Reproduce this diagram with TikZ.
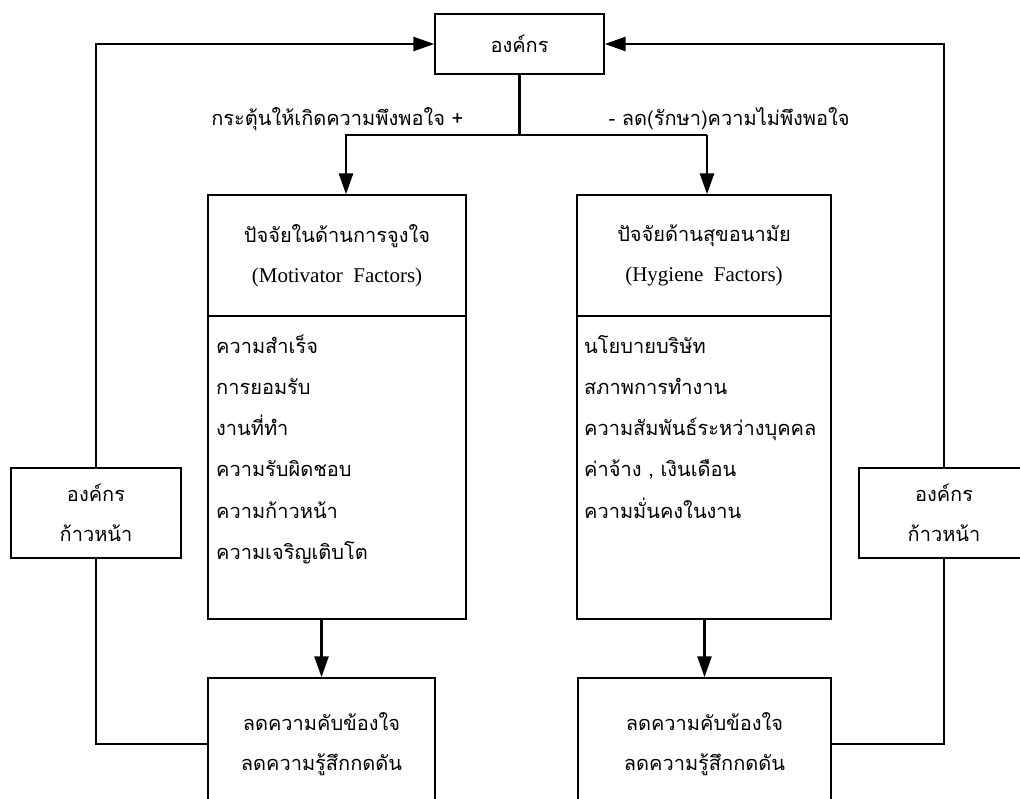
\documentclass[tikz,border=0pt]{standalone}
\usepackage{fontspec}
\setmainfont{Liberation Serif}
\newfontfamily\thai[Script=Thai]{Loma}
\usetikzlibrary{arrows.meta}

\begin{document}
\begin{tikzpicture}[x=1pt, y=-1pt,
    every node/.style={font=\thai\fontsize{20}{40}\selectfont},
    box/.style={draw, line width=1.4pt, inner sep=0pt, align=center},
    conn/.style={line width=2.6pt},
    arr/.style={conn, -{Triangle[length=21pt, width=14pt]}},
    item/.style={anchor=base west, inner sep=0pt}]
  \useasboundingbox (0,0) rectangle (1020,798);
  \node[box, minimum width=169pt, minimum height=60pt] (org) at (519.5,44) {องค์กร};
  \node[box, minimum width=258pt, minimum height=121pt] (motivHead) at (337,255.5)
    {ปัจจัยในด้านการจูงใจ\\{\rmfamily\fontsize{21}{40}\selectfont (Motivator\ \ Factors)}};
  \node[box, minimum width=258pt, minimum height=303pt] (motivList) at (337,467.5) {};
  \node[box, minimum width=254pt, minimum height=121pt] (hygHead) at (704,255.5)
    {ปัจจัยด้านสุขอนามัย\\{\rmfamily\fontsize{21}{40}\selectfont (Hygiene\ \ Factors)}};
  \node[box, minimum width=254pt, minimum height=303pt] (hygList) at (704,467.5) {};
  \node[box, minimum width=227pt, minimum height=132pt] (motivEnd) at (321.5,744)
    {ลดความคับข้องใจ\\ลดความรู้สึกกดดัน};
  \node[box, minimum width=253pt, minimum height=132pt] (hygEnd) at (704.5,744)
    {ลดความคับข้องใจ\\ลดความรู้สึกกดดัน};
  \node[box, fill=white, minimum width=170pt, minimum height=90pt] (leftUp) at (96,513)
    {องค์กร\\ก้าวหน้า};
  \node[box, fill=white, minimum width=170pt, minimum height=90pt] (rightUp) at (944,513)
    {องค์กร\\ก้าวหน้า};
  % lists
  \foreach \t [count=\i] in {ความสำเร็จ, การยอมรับ, งานที่ทำ, ความรับผิดชอบ,
      ความก้าวหน้า, ความเจริญเติบโต}
    \node[item] (motiv\i) at (216, 312+41.2*\i) {\t};
  \foreach \t [count=\i] in {นโยบายบริษัท, สภาพการทำงาน, ความสัมพันธ์ระหว่างบุคคล,
      {ค่าจ้าง , เงินเดือน}, ความมั่นคงในงาน}
    \node[item] (hyg\i) at (584, 312+41.2*\i) {\t};
  % split
  \coordinate (splitL) at (346,135);
  \coordinate (splitR) at (707,135);
  \draw[conn] (org.south) -- (org.south |- splitL);
  \draw[arr] (splitR) -- (splitL) -- (splitL |- motivHead.north);
  \draw[arr] (splitR) -- (splitR |- hygHead.north);
  \node[anchor=base east] (plusLbl) at (467,125) {กระตุ้นให้เกิดความพึงพอใจ +};
  \node[anchor=base west] (minusLbl) at (605,125) {- ลด(รักษา)ความไม่พึงพอใจ};
  % down
  \draw[arr] (motivEnd.north |- motivList.south) -- (motivEnd.north);
  \draw[arr] (hygEnd.north |- hygList.south) -- (hygEnd.north);
  % feedback
  \draw[conn] (motivEnd.west) -| (leftUp.south);
  \draw[arr] (leftUp.north) |- (org.west);
  \draw[conn] (hygEnd.east) -| (rightUp.south);
  \draw[arr] (rightUp.north) |- (org.east);
\end{tikzpicture}
\end{document}
